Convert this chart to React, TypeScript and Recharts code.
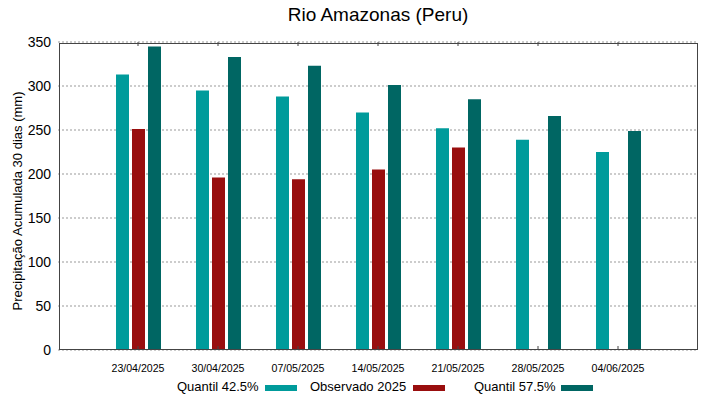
import { BarChart, Bar, XAxis, YAxis, CartesianGrid } from "recharts";

const DATES = ["23/04/2025", "30/04/2025", "07/05/2025", "14/05/2025", "21/05/2025", "28/05/2025", "04/06/2025"];
const Q425 = [313, 295, 288, 270, 252, 239, 225];
const OBS = [251, 196, 194, 205, 230, null, null];
const Q575 = [345, 333, 323, 301, 285, 266, 249];
const Y_TICKS = [0, 50, 100, 150, 200, 250, 300, 350];

const COLORS = {
  q425: "#009b9b",
  obs: "#990e0e",
  q575: "#006663",
};

const FONT = "'Liberation Sans', Arial, sans-serif";
const TICK_LINE = { stroke: "#444", strokeWidth: 1 };

const data = DATES.map((d, i) => ({ date: d, q425: Q425[i], obs: OBS[i], q575: Q575[i] }));

// legend: text start, swatch start
const legend = [
  { label: "Quantil 42.5%", color: COLORS.q425, left: 177, sw: 265 },
  { label: "Observado 2025", color: COLORS.obs, left: 310, sw: 413 },
  { label: "Quantil 57.5%", color: COLORS.q575, left: 474, sw: 561 },
];

const NoTick = () => <g />;

export default function App() {
  return (
    <div style={{ position: "absolute", left: 0, top: 0, width: 719, height: 399, background: "#fff", fontFamily: FONT }}>
      <div style={{ position: "absolute", top: 4, left: 0, width: 756, textAlign: "center", fontSize: 19, color: "#000" }}>
        Rio Amazonas (Peru)
      </div>
      <div
        style={{
          position: "absolute",
          left: 17,
          top: 201,
          transform: "translate(-50%, -50%) rotate(-90deg)",
          whiteSpace: "nowrap",
          fontSize: 13,
          color: "#000",
        }}
      >
        Precipitação Acumulada 30 dias (mm)
      </div>
      <BarChart
        width={719}
        height={399}
        data={data}
        margin={{ top: 42, right: 21, bottom: 48, left: 18 }}
        barSize={13}
        barGap={3}
      >
        <CartesianGrid horizontal vertical={false} stroke="#999" strokeDasharray="2 2" />
        <XAxis
          dataKey="date"
          padding={{ left: 40, right: 40 }}
          height={1}
          axisLine={false}
          tickLine={false}
          tickSize={0}
          tickMargin={14}
          tick={{ fontSize: 10.6, fill: "#000", fontFamily: FONT }}
          interval={0}
        />
        <XAxis
          xAxisId="bt"
          dataKey="date"
          padding={{ left: 40, right: 40 }}
          height={1}
          mirror
          stroke="#444"
          axisLine={false}
          tickLine={TICK_LINE}
          tickSize={4}
          tick={NoTick}
          interval={0}
        />
        <XAxis
          xAxisId="top"
          dataKey="date"
          orientation="top"
          padding={{ left: 40, right: 40 }}
          height={1}
          mirror
          stroke="#444"
          axisLine={false}
          tickLine={TICK_LINE}
          tickSize={4}
          tick={NoTick}
          interval={0}
        />
        <YAxis
          domain={[0, 350]}
          ticks={Y_TICKS}
          width={40}
          axisLine={false}
          tickLine={false}
          tickSize={0}
          tickMargin={7}
          tick={{ fontSize: 14, fill: "#000", fontFamily: FONT }}
          interval={0}
        />
        <YAxis
          yAxisId="lt"
          domain={[0, 350]}
          ticks={Y_TICKS}
          width={1}
          mirror
          stroke="#444"
          axisLine={false}
          tickLine={TICK_LINE}
          tickSize={4}
          tick={NoTick}
          interval={0}
        />
        <YAxis
          yAxisId="right"
          orientation="right"
          domain={[0, 350]}
          ticks={Y_TICKS}
          width={1}
          mirror
          stroke="#444"
          axisLine={false}
          tickLine={TICK_LINE}
          tickSize={4}
          tick={NoTick}
          interval={0}
        />
        <Bar dataKey="q425" fill={COLORS.q425} isAnimationActive={false} />
        <Bar dataKey="obs" fill={COLORS.obs} isAnimationActive={false} />
        <Bar dataKey="q575" fill={COLORS.q575} isAnimationActive={false} />
      </BarChart>
      <div
        style={{
          position: "absolute",
          left: 59,
          top: 43,
          width: 637,
          height: 305,
          border: "1px solid #444",
          pointerEvents: "none",
        }}
      />
      {legend.map((l) => (
        <div key={l.label}>
          <span
            style={{
              position: "absolute",
              left: l.left,
              top: 379,
              fontSize: 13,
              lineHeight: "16px",
              whiteSpace: "nowrap",
              color: "#000",
            }}
          >
            {l.label}
          </span>
          <span style={{ position: "absolute", left: l.sw, top: 385, width: 32, height: 6, background: l.color }} />
        </div>
      ))}
    </div>
  );
}
